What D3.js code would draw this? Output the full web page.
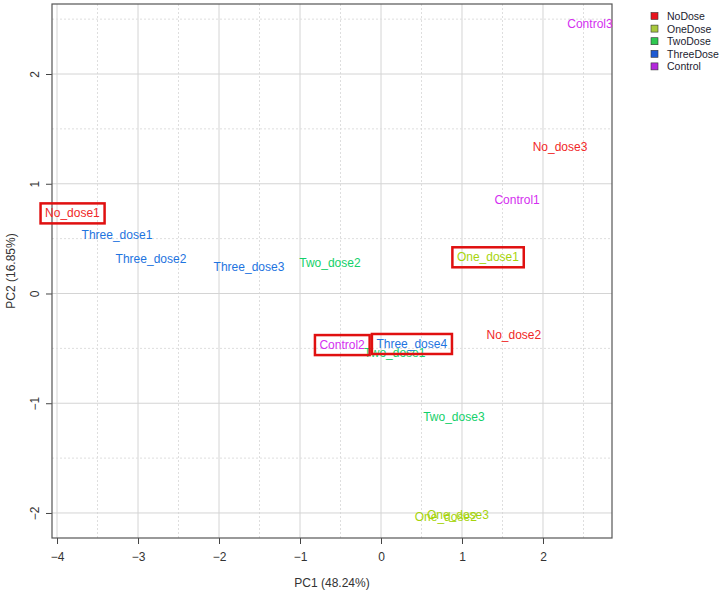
<!DOCTYPE html>
<html>
<head>
<meta charset="utf-8">
<script src="https://cdn.jsdelivr.net/npm/d3@7"></script>
<style>
  body { margin: 0; background: #fff; }
  svg { display: block; font-family: "Liberation Sans", Arial, sans-serif; }
</style>
</head>
<body>
<div id="chart"></div>
<script>
// sample scores on the first two principal components
const sampleNames = ["Control3", "No_dose3", "Control1", "No_dose1", "Three_dose1", "Three_dose2",
  "Three_dose3", "Two_dose2", "One_dose1", "No_dose2", "Control2", "Two_dose1", "Three_dose4",
  "Two_dose3", "One_dose3", "One_dose2"];
const pc1 = [2.58, 2.21, 1.68, -3.81, -3.26, -2.84, -1.63, -0.63, 1.32, 1.64, -0.48, 0.17, 0.38, 0.90, 0.95, 0.80];
const pc2 = [2.46, 1.335, 0.85, 0.73, 0.53, 0.31, 0.24, 0.28, 0.33, -0.38, -0.47, -0.54, -0.46, -1.125, -2.02, -2.04];
const sampleGroup = ["Control", "NoDose", "Control", "NoDose", "ThreeDose", "ThreeDose",
  "ThreeDose", "TwoDose", "OneDose", "NoDose", "Control", "TwoDose", "ThreeDose",
  "TwoDose", "OneDose", "OneDose"];
const highlighted = ["No_dose1", "One_dose1", "Control2", "Three_dose4"];

const groupNames = ["NoDose", "OneDose", "TwoDose", "ThreeDose", "Control"];
const labelColors = ["#f02828", "#a6d40a", "#14d06a", "#1e74e0", "#d42ef0"];
const legendColors = ["#e8141e", "#a8c83c", "#2ec850", "#1e5ad2", "#b428dc"];

const xTicks = [-4, -3, -2, -1, 0, 1, 2];
const yTicks = [-2, -1, 0, 1, 2];
const xHalf = [-3.5, -2.5, -1.5, -0.5, 0.5, 1.5, 2.5];
const yHalf = [-1.5, -0.5, 0.5, 1.5, 2.5];

const width = 722, height = 593;
const plot = { left: 52, right: 612, top: 4, bottom: 538 };

const svg = d3.select('#chart').append('svg')
  .attr('width', width)
  .attr('height', height);

svg.append('rect').attr('width', width).attr('height', height).attr('fill', '#fff');

const xScale = d3.scaleLinear().domain([-4.062, 2.852]).range([plot.left, plot.right]);
const yScale = d3.scaleLinear().domain([-2.228, 2.638]).range([plot.bottom, plot.top]);

const color = d3.scaleOrdinal().domain(groupNames).range(labelColors);

// grid: solid at integers, dotted at halves
const grid = svg.append('g').attr('class', 'grid');
grid.selectAll('line.vx')
  .data(xTicks)
  .join('line')
  .attr('x1', d => xScale(d)).attr('x2', d => xScale(d))
  .attr('y1', plot.top).attr('y2', plot.bottom)
  .attr('stroke', '#d4d4d4').attr('stroke-width', 1);
grid.selectAll('line.vh')
  .data(xHalf)
  .join('line')
  .attr('x1', d => xScale(d)).attr('x2', d => xScale(d))
  .attr('y1', plot.top).attr('y2', plot.bottom)
  .attr('stroke', '#dedede').attr('stroke-width', 1).attr('stroke-dasharray', '2,2');
grid.selectAll('line.hy')
  .data(yTicks)
  .join('line')
  .attr('x1', plot.left).attr('x2', plot.right)
  .attr('y1', d => yScale(d)).attr('y2', d => yScale(d))
  .attr('stroke', '#d4d4d4').attr('stroke-width', 1);
grid.selectAll('line.hh')
  .data(yHalf)
  .join('line')
  .attr('x1', plot.left).attr('x2', plot.right)
  .attr('y1', d => yScale(d)).attr('y2', d => yScale(d))
  .attr('stroke', '#dedede').attr('stroke-width', 1).attr('stroke-dasharray', '2,2');

// axes
const xAxis = svg.append('g')
  .attr('transform', `translate(0, ${plot.bottom})`)
  .call(d3.axisBottom(xScale).tickValues(xTicks).tickSize(6).tickPadding(8).tickFormat(d3.format('d')));
const yAxis = svg.append('g')
  .attr('transform', `translate(${plot.left}, 0)`)
  .call(d3.axisLeft(yScale).tickValues(yTicks).tickSize(6).tickPadding(0).tickFormat(d3.format('d')));

[xAxis, yAxis].forEach(ax => {
  ax.select('.domain').remove();
  ax.selectAll('line').attr('stroke', '#444');
  ax.selectAll('text').style('font-size', '12px').style('fill', '#333')
    .style('font-family', '"Liberation Sans", Arial, sans-serif');
});
yAxis.selectAll('.tick text')
  .attr('x', 0).attr('dy', 0)
  .attr('text-anchor', 'middle')
  .attr('transform', 'translate(-17, 0) rotate(-90)')
  .attr('dominant-baseline', 'central');

// plot frame
svg.append('rect')
  .attr('x', plot.left).attr('y', plot.top)
  .attr('width', plot.right - plot.left).attr('height', plot.bottom - plot.top)
  .attr('fill', 'none').attr('stroke', '#555').attr('stroke-width', 1.2);

// axis titles
svg.append('text')
  .attr('x', (plot.left + plot.right) / 2).attr('y', 587)
  .attr('text-anchor', 'middle')
  .style('font-size', '12px').style('fill', '#333')
  .text('PC1 (48.24%)');
svg.append('text')
  .attr('transform', `translate(15, ${(plot.top + plot.bottom) / 2}) rotate(-90)`)
  .attr('text-anchor', 'middle')
  .style('font-size', '12px').style('fill', '#333')
  .text('PC2 (16.85%)');

// sample labels
const samples = sampleNames.map((name, i) => ({ name, x: pc1[i], y: pc2[i], group: sampleGroup[i] }));

const labels = svg.append('g').attr('class', 'labels')
  .selectAll('text')
  .data(samples)
  .join('text')
  .attr('x', d => xScale(d.x))
  .attr('y', d => yScale(d.y))
  .attr('text-anchor', 'middle')
  .attr('dominant-baseline', 'central')
  .style('font-size', '12px')
  .style('fill', d => color(d.group))
  .text(d => d.name);

// red highlight boxes around selected samples
const boxes = svg.append('g').attr('class', 'boxes');
labels.filter(d => highlighted.includes(d.name)).each(function () {
  const b = this.getBBox();
  boxes.append('rect')
    .attr('x', b.x - 4.5).attr('y', b.y - 3)
    .attr('width', b.width + 9).attr('height', b.height + 6)
    .attr('fill', 'none')
    .attr('stroke', '#e01010')
    .attr('stroke-width', 2.5);
});

// legend
const legend = svg.append('g').attr('transform', 'translate(651, 16)');
const rows = legend.selectAll('g')
  .data(groupNames)
  .join('g')
  .attr('transform', (d, i) => `translate(0, ${i * 12.6})`);
rows.append('rect')
  .attr('x', 0).attr('y', -3.5)
  .attr('width', 7).attr('height', 7)
  .attr('fill', (d, i) => legendColors[i])
  .attr('stroke', '#333').attr('stroke-width', 0.6);
rows.append('text')
  .attr('x', 16).attr('y', 0)
  .attr('dominant-baseline', 'central')
  .style('font-size', '10.5px')
  .style('fill', '#1c1c30')
  .text(d => d);
</script>
</body>
</html>
